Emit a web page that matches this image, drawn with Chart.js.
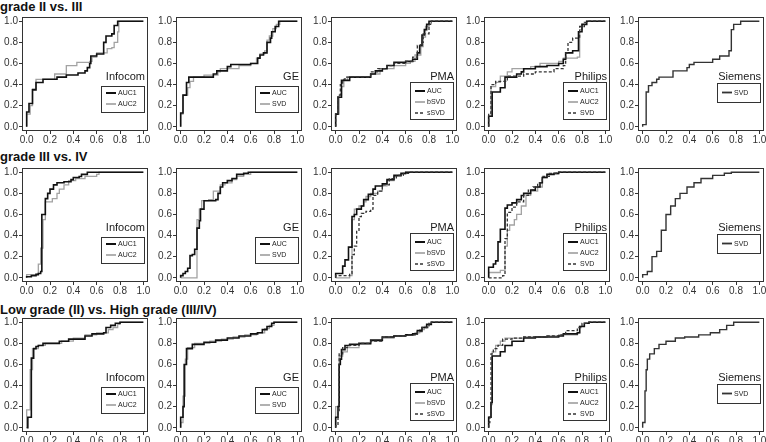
<!DOCTYPE html>
<html>
<head>
<meta charset="utf-8">
<script src="https://cdn.jsdelivr.net/npm/chart.js@4.4.1/dist/chart.umd.min.js"></script>
<style>
  body { margin: 0; background: #fff; width: 766px; height: 442px; position: relative; overflow: hidden;
         font-family: "Liberation Sans", Arial, sans-serif; }
  .row-title { position: absolute; left: 0; font-weight: bold; font-size: 13px; line-height: 14px; color: #111; white-space: nowrap; }
  canvas { position: absolute; }
</style>
</head>
<body>
<script>
// Etiquetas
const TICKS = [0, 0.2, 0.4, 0.6, 0.8, 1.0];
const ROW_TITLES = ['grade II vs. III', 'grade III vs. IV', 'Low grade (II) vs. High grade (III/IV)'];
const VENDORS = ['Infocom', 'GE', 'PMA', 'Philips', 'Siemens'];
const LEGEND_LABELS = [['AUC1', 'AUC2'], ['AUC', 'SVD'], ['AUC', 'bSVD', 'sSVD'], ['AUC1', 'AUC2', 'SVD'], ['SVD']];
const LINE_KINDS = [['black', 'grey'], ['black', 'grey'], ['black', 'grey', 'dash'], ['black', 'grey', 'dash'], ['dark']];

// Curvas ROC (FPR, TPR) - fila 1: grade II vs. III
const r1InfocomAuc1 = [[0,0],[0,0.14],[0.02,0.22],[0.05,0.35],[0.08,0.42],[0.14,0.45],[0.26,0.47],[0.34,0.49],[0.44,0.51],[0.5,0.53],[0.52,0.56],[0.54,0.6],[0.55,0.67],[0.6,0.69],[0.66,0.8],[0.68,0.86],[0.73,0.88],[0.75,0.96],[0.78,1],[1,1]];
const r1InfocomAuc2 = [[0,0],[0,0.12],[0.03,0.2],[0.05,0.36],[0.08,0.45],[0.24,0.5],[0.34,0.58],[0.43,0.61],[0.54,0.62],[0.56,0.66],[0.6,0.7],[0.69,0.74],[0.73,0.75],[0.75,0.8],[0.78,0.9],[0.79,1],[1,1]];
const r1GeAuc = [[0,0],[0,0.13],[0.02,0.3],[0.05,0.42],[0.07,0.47],[0.28,0.5],[0.31,0.53],[0.4,0.57],[0.43,0.59],[0.6,0.6],[0.66,0.65],[0.68,0.68],[0.71,0.7],[0.74,0.8],[0.77,0.84],[0.78,0.9],[0.81,0.95],[0.84,1],[1,1]];
const r1GeSvd = [[0,0],[0,0.12],[0.02,0.3],[0.06,0.37],[0.08,0.43],[0.11,0.47],[0.2,0.49],[0.32,0.52],[0.34,0.55],[0.5,0.58],[0.6,0.6],[0.65,0.65],[0.68,0.69],[0.72,0.72],[0.74,0.82],[0.76,0.86],[0.79,0.93],[0.82,0.97],[0.85,1],[1,1]];
const r1PmaAuc = [[0,0],[0,0.12],[0.02,0.28],[0.05,0.44],[0.12,0.47],[0.3,0.5],[0.34,0.53],[0.4,0.55],[0.44,0.58],[0.5,0.61],[0.6,0.62],[0.66,0.64],[0.7,0.7],[0.72,0.77],[0.74,0.87],[0.76,0.92],[0.78,0.97],[0.8,1],[1,1]];
const r1PmaBsvd = [[0,0],[0,0.12],[0.03,0.3],[0.05,0.38],[0.07,0.44],[0.1,0.47],[0.3,0.5],[0.38,0.55],[0.5,0.58],[0.6,0.6],[0.64,0.62],[0.68,0.68],[0.73,0.76],[0.75,0.85],[0.77,0.95],[0.8,0.98],[0.82,1],[1,1]];
const r1PmaSsvd = [[0,0],[0,0.12],[0.02,0.3],[0.04,0.4],[0.06,0.45],[0.08,0.47],[0.3,0.52],[0.36,0.55],[0.44,0.58],[0.5,0.6],[0.6,0.62],[0.66,0.66],[0.7,0.77],[0.73,0.8],[0.75,0.88],[0.8,0.97],[0.82,1],[1,1]];
const r1PhilipsAuc1 = [[0,0],[0,0.1],[0.03,0.33],[0.1,0.37],[0.14,0.47],[0.24,0.5],[0.28,0.52],[0.3,0.55],[0.4,0.57],[0.5,0.58],[0.6,0.6],[0.64,0.64],[0.66,0.7],[0.72,0.72],[0.77,0.9],[0.8,0.97],[0.84,1],[1,1]];
const r1PhilipsAuc2 = [[0,0],[0,0.1],[0.02,0.38],[0.06,0.42],[0.1,0.48],[0.16,0.52],[0.2,0.55],[0.36,0.57],[0.44,0.6],[0.6,0.62],[0.64,0.65],[0.76,0.66],[0.78,0.92],[0.8,0.97],[0.84,1],[1,1]];
const r1PhilipsSvd = [[0,0],[0,0.13],[0.02,0.4],[0.06,0.43],[0.16,0.48],[0.3,0.5],[0.4,0.52],[0.56,0.55],[0.64,0.58],[0.66,0.7],[0.68,0.8],[0.72,0.84],[0.76,0.85],[0.78,0.95],[0.82,0.99],[0.86,1],[1,1]];
const r1SiemensSvd = [[0,0],[0,0.02],[0.03,0.33],[0.05,0.39],[0.08,0.42],[0.12,0.45],[0.14,0.47],[0.26,0.53],[0.38,0.56],[0.4,0.59],[0.44,0.61],[0.6,0.64],[0.66,0.67],[0.74,0.72],[0.76,0.92],[0.78,0.97],[0.84,1],[1,1]];

// fila 2: grade III vs. IV
const r2InfocomAuc1 = [[0,0],[0,0.01],[0.04,0.02],[0.08,0.03],[0.1,0.04],[0.12,0.06],[0.13,0.6],[0.16,0.75],[0.18,0.8],[0.2,0.84],[0.23,0.88],[0.26,0.9],[0.32,0.91],[0.38,0.93],[0.4,0.95],[0.45,0.96],[0.47,0.98],[0.52,1],[1,1]];
const r2InfocomAuc2 = [[0,0],[0,0.03],[0.08,0.04],[0.1,0.13],[0.12,0.28],[0.14,0.55],[0.16,0.72],[0.22,0.75],[0.26,0.8],[0.28,0.84],[0.32,0.88],[0.36,0.92],[0.42,0.94],[0.5,0.96],[0.6,0.98],[0.62,1],[1,1]];
const r2GeAuc = [[0,0],[0,0.02],[0.02,0.04],[0.04,0.06],[0.06,0.09],[0.08,0.21],[0.1,0.22],[0.12,0.27],[0.14,0.47],[0.16,0.54],[0.17,0.65],[0.2,0.73],[0.3,0.74],[0.32,0.8],[0.34,0.86],[0.36,0.9],[0.4,0.92],[0.44,0.94],[0.48,0.98],[0.54,0.99],[0.58,1],[1,1]];
const r2GeSvd = [[0,0],[0.14,0.55],[0.16,0.65],[0.18,0.73],[0.24,0.74],[0.28,0.82],[0.34,0.88],[0.38,0.9],[0.44,0.93],[0.48,0.96],[0.54,0.98],[0.6,1],[1,1]];
const r2PmaAuc = [[0,0],[0,0.04],[0.06,0.11],[0.08,0.17],[0.11,0.29],[0.14,0.3],[0.14,0.58],[0.16,0.6],[0.18,0.65],[0.22,0.68],[0.24,0.74],[0.28,0.79],[0.32,0.84],[0.34,0.87],[0.4,0.89],[0.44,0.93],[0.5,0.97],[0.56,0.99],[0.6,1],[1,1]];
const r2PmaBsvd = [[0,0],[0.12,0.02],[0.14,0.55],[0.16,0.65],[0.2,0.68],[0.24,0.72],[0.26,0.77],[0.3,0.8],[0.36,0.82],[0.4,0.87],[0.44,0.92],[0.5,0.96],[0.56,0.98],[0.6,1],[1,1]];
const r2PmaSsvd = [[0,0],[0,0.02],[0.12,0.04],[0.14,0.22],[0.16,0.3],[0.18,0.44],[0.2,0.58],[0.22,0.61],[0.26,0.63],[0.3,0.65],[0.32,0.78],[0.36,0.82],[0.4,0.88],[0.46,0.94],[0.52,0.97],[0.58,0.99],[0.64,1],[1,1]];
const r2PhilipsAuc1 = [[0,0],[0,0.1],[0.04,0.13],[0.06,0.16],[0.08,0.34],[0.1,0.46],[0.14,0.66],[0.16,0.69],[0.2,0.71],[0.24,0.74],[0.28,0.78],[0.3,0.8],[0.36,0.83],[0.4,0.86],[0.44,0.9],[0.46,0.95],[0.5,0.98],[0.56,0.99],[0.6,1],[1,1]];
const r2PhilipsAuc2 = [[0,0],[0,0.05],[0.1,0.07],[0.14,0.3],[0.16,0.45],[0.18,0.5],[0.22,0.55],[0.24,0.6],[0.28,0.68],[0.32,0.78],[0.36,0.82],[0.42,0.86],[0.46,0.95],[0.5,0.98],[0.6,1],[1,1]];
const r2PhilipsSvd = [[0,0],[0.12,0.02],[0.14,0.37],[0.16,0.62],[0.2,0.67],[0.24,0.72],[0.3,0.78],[0.34,0.83],[0.38,0.86],[0.42,0.9],[0.46,0.96],[0.52,0.99],[0.58,1],[1,1]];
const r2SiemensSvd = [[0,0],[0,0.03],[0.04,0.06],[0.08,0.2],[0.12,0.25],[0.16,0.45],[0.2,0.6],[0.24,0.68],[0.28,0.75],[0.32,0.8],[0.38,0.86],[0.44,0.9],[0.5,0.94],[0.6,0.97],[0.7,0.99],[0.76,1],[1,1]];

// fila 3: Low grade vs. High grade
const r3InfocomAuc1 = [[0,0],[0.01,0.1],[0.04,0.66],[0.06,0.75],[0.08,0.77],[0.1,0.78],[0.14,0.8],[0.28,0.82],[0.36,0.84],[0.5,0.87],[0.56,0.89],[0.66,0.9],[0.68,0.95],[0.72,0.97],[0.76,0.99],[0.8,1],[1,1]];
const r3InfocomAuc2 = [[0,0],[0,0.17],[0.03,0.55],[0.05,0.75],[0.1,0.78],[0.16,0.8],[0.3,0.82],[0.4,0.85],[0.5,0.88],[0.6,0.9],[0.7,0.93],[0.74,0.95],[0.78,0.98],[0.8,1],[1,1]];
const r3GeAuc = [[0,0],[0,0.1],[0.02,0.2],[0.03,0.6],[0.05,0.75],[0.1,0.79],[0.2,0.81],[0.3,0.83],[0.4,0.85],[0.5,0.87],[0.6,0.89],[0.66,0.9],[0.7,0.93],[0.74,0.96],[0.78,0.99],[0.8,1],[1,1]];
const r3GeSvd = [[0,0],[0,0.05],[0.02,0.3],[0.04,0.65],[0.06,0.76],[0.12,0.8],[0.25,0.82],[0.35,0.84],[0.45,0.86],[0.55,0.88],[0.65,0.9],[0.72,0.94],[0.76,0.97],[0.8,1],[1,1]];
const r3PmaAuc = [[0,0],[0,0.1],[0.02,0.2],[0.03,0.6],[0.04,0.65],[0.05,0.74],[0.08,0.78],[0.12,0.79],[0.2,0.8],[0.3,0.83],[0.4,0.86],[0.5,0.87],[0.6,0.88],[0.66,0.89],[0.7,0.92],[0.74,0.95],[0.78,0.98],[0.82,1],[1,1]];
const r3PmaBsvd = [[0,0],[0,0.2],[0.03,0.68],[0.06,0.72],[0.1,0.76],[0.2,0.79],[0.3,0.82],[0.4,0.85],[0.5,0.87],[0.6,0.88],[0.68,0.9],[0.72,0.93],[0.76,0.96],[0.8,0.99],[0.82,1],[1,1]];
const r3PmaSsvd = [[0,0],[0,0.02],[0.02,0.14],[0.03,0.7],[0.06,0.76],[0.1,0.78],[0.2,0.8],[0.3,0.82],[0.4,0.86],[0.5,0.87],[0.6,0.88],[0.7,0.91],[0.74,0.95],[0.8,0.99],[0.82,1],[1,1]];
const r3PhilipsAuc1 = [[0,0],[0,0.1],[0.02,0.24],[0.03,0.68],[0.1,0.72],[0.14,0.78],[0.2,0.82],[0.3,0.85],[0.4,0.86],[0.6,0.87],[0.64,0.89],[0.76,0.9],[0.78,0.96],[0.82,0.99],[0.86,1],[1,1]];
const r3PhilipsAuc2 = [[0,0],[0,0.1],[0.02,0.22],[0.03,0.72],[0.06,0.78],[0.1,0.82],[0.14,0.85],[0.3,0.86],[0.5,0.87],[0.6,0.88],[0.76,0.9],[0.78,0.96],[0.82,0.99],[0.86,1],[1,1]];
const r3PhilipsSvd = [[0,0],[0,0.05],[0.01,0.1],[0.02,0.7],[0.04,0.75],[0.08,0.78],[0.12,0.84],[0.2,0.85],[0.3,0.86],[0.5,0.87],[0.62,0.88],[0.66,0.92],[0.76,0.95],[0.8,0.99],[0.86,1],[1,1]];
const r3SiemensSvd = [[0,0],[0,0.05],[0.02,0.35],[0.03,0.55],[0.04,0.65],[0.06,0.7],[0.1,0.75],[0.14,0.79],[0.2,0.82],[0.28,0.85],[0.36,0.86],[0.48,0.88],[0.58,0.9],[0.66,0.93],[0.72,0.97],[0.78,1],[1,1]];

const PANEL_DATA = [
  [[r1InfocomAuc1, r1InfocomAuc2], [r1GeAuc, r1GeSvd], [r1PmaAuc, r1PmaBsvd, r1PmaSsvd], [r1PhilipsAuc1, r1PhilipsAuc2, r1PhilipsSvd], [r1SiemensSvd]],
  [[r2InfocomAuc1, r2InfocomAuc2], [r2GeAuc, r2GeSvd], [r2PmaAuc, r2PmaBsvd, r2PmaSsvd], [r2PhilipsAuc1, r2PhilipsAuc2, r2PhilipsSvd], [r2SiemensSvd]],
  [[r3InfocomAuc1, r3InfocomAuc2], [r3GeAuc, r3GeSvd], [r3PmaAuc, r3PmaBsvd, r3PmaSsvd], [r3PhilipsAuc1, r3PhilipsAuc2, r3PhilipsSvd], [r3SiemensSvd]]
];

// Disposición
const COL_X = [22, 176, 331, 484, 638];
const ROW_Y = [17, 168, 318];
const TITLE_Y = [0, 150, 303];
const BOX_W = 126, BOX_H = 114;
const Y_AXIS_W = 24, X_AXIS_H = 18, PAD_TOP = 8, PAD_RIGHT = 10;

const STYLES = {
  black: { color: '#111', width: 1.6, dash: [] },
  grey:  { color: '#a3a3a3', width: 1.3, dash: [] },
  dash:  { color: '#333', width: 1.3, dash: [3, 2] },
  dark:  { color: '#333', width: 1.4, dash: [] }
};

Chart.defaults.font.family = '"Liberation Sans", Arial, sans-serif';
Chart.defaults.font.size = 10;
Chart.defaults.color = '#333';

// Marco del panel
const framePlugin = {
  id: 'frame',
  afterDraw(chart) {
    const { ctx, chartArea: a } = chart;
    ctx.save();
    ctx.strokeStyle = '#333';
    ctx.lineWidth = 1;
    ctx.strokeRect(Math.round(a.left) + 0.5, Math.round(a.top) + 0.5, Math.round(a.width) - 1, Math.round(a.height) - 1);
    ctx.restore();
  }
};

// Leyenda dentro del panel
const LEG = { 1: { top: 66, h: 19, first: 9.5 }, 2: { top: 69, h: 26, first: 7 }, 3: { top: 65, h: 37, first: 9 } };
const panelLegend = {
  id: 'panelLegend',
  afterDatasetsDraw(chart, args, opts) {
    const { ctx, chartArea: a } = chart;
    const n = opts.labels.length;
    const cfg = LEG[n];
    const right = Math.round(a.right) - 4;
    const w = 43;
    const left = right - w;
    const top = Math.round(a.top) + cfg.top;
    ctx.save();
    ctx.font = '11px "Liberation Sans", Arial, sans-serif';
    ctx.fillStyle = '#1a1a1a';
    ctx.textAlign = 'right';
    ctx.textBaseline = 'middle';
    ctx.fillText(opts.vendor, right + 1, a.top + 60);
    ctx.fillStyle = '#fff';
    ctx.fillRect(left, top, w, cfg.h);
    ctx.strokeStyle = '#333';
    ctx.lineWidth = 1;
    ctx.strokeRect(left + 0.5, top + 0.5, w, cfg.h);
    ctx.font = '7px "Liberation Sans", Arial, sans-serif';
    ctx.textAlign = 'left';
    opts.labels.forEach((lab, i) => {
      const st = STYLES[opts.kinds[i]];
      const y = top + cfg.first + i * 11;
      ctx.beginPath();
      ctx.strokeStyle = st.color;
      ctx.lineWidth = st.width + 0.4;
      ctx.setLineDash(st.dash);
      ctx.moveTo(left + 5, y);
      ctx.lineTo(left + 15, y);
      ctx.stroke();
      ctx.setLineDash([]);
      ctx.fillStyle = '#222';
      ctx.fillText(lab, left + 17, y + 0.5);
    });
    ctx.restore();
  }
};

function axisConfig(isX) {
  return {
    type: 'linear',
    min: -0.04,
    max: 1.04,
    afterBuildTicks: s => { s.ticks = TICKS.map(v => ({ value: v })); },
    afterFit: s => {
      if (isX) { s.height = X_AXIS_H; s.paddingLeft = 0; s.paddingRight = 0; }
      else { s.width = Y_AXIS_W; s.paddingTop = 0; s.paddingBottom = 0; }
    },
    border: { display: false },
    grid: { display: true, drawOnChartArea: false, drawTicks: true, tickLength: 3, color: '#333' },
    ticks: {
      autoSkip: false,
      maxRotation: 0,
      padding: isX ? 0 : 1,
      color: '#333',
      font: { size: 10 },
      callback: v => Number(v).toFixed(1)
    }
  };
}

ROW_TITLES.forEach((t, r) => {
  const d = document.createElement('div');
  d.className = 'row-title';
  d.style.top = TITLE_Y[r] + 'px';
  d.textContent = t;
  document.body.appendChild(d);
});

PANEL_DATA.forEach((row, r) => {
  row.forEach((series, c) => {
    const canvas = document.createElement('canvas');
    canvas.width = Y_AXIS_W + BOX_W + PAD_RIGHT;
    canvas.height = PAD_TOP + BOX_H + X_AXIS_H;
    canvas.style.left = (COL_X[c] - Y_AXIS_W) + 'px';
    canvas.style.top = (ROW_Y[r] - PAD_TOP) + 'px';
    document.body.appendChild(canvas);

    // dibujar primero las grises, luego las oscuras
    const datasets = series.map((pts, i) => {
      const st = STYLES[LINE_KINDS[c][i]];
      return {
        label: LEGEND_LABELS[c][i],
        data: pts.map(p => ({ x: p[0], y: p[1] })),
        showLine: true,
        stepped: true,
        borderColor: st.color,
        borderWidth: st.width,
        borderDash: st.dash,
        pointRadius: 0,
        fill: false,
        order: LINE_KINDS[c][i] === 'grey' ? 2 : (LINE_KINDS[c][i] === 'black' ? 1 : 0)
      };
    });

    new Chart(canvas, {
      type: 'scatter',
      data: { datasets },
      options: {
        responsive: false,
        animation: false,
        events: [],
        layout: { padding: { top: PAD_TOP, right: PAD_RIGHT, left: 0, bottom: 0 } },
        scales: { x: axisConfig(true), y: axisConfig(false) },
        plugins: {
          legend: { display: false },
          tooltip: { enabled: false },
          panelLegend: { vendor: VENDORS[c], labels: LEGEND_LABELS[c], kinds: LINE_KINDS[c] }
        }
      },
      plugins: [framePlugin, panelLegend]
    });
  });
});
</script>
</body>
</html>
